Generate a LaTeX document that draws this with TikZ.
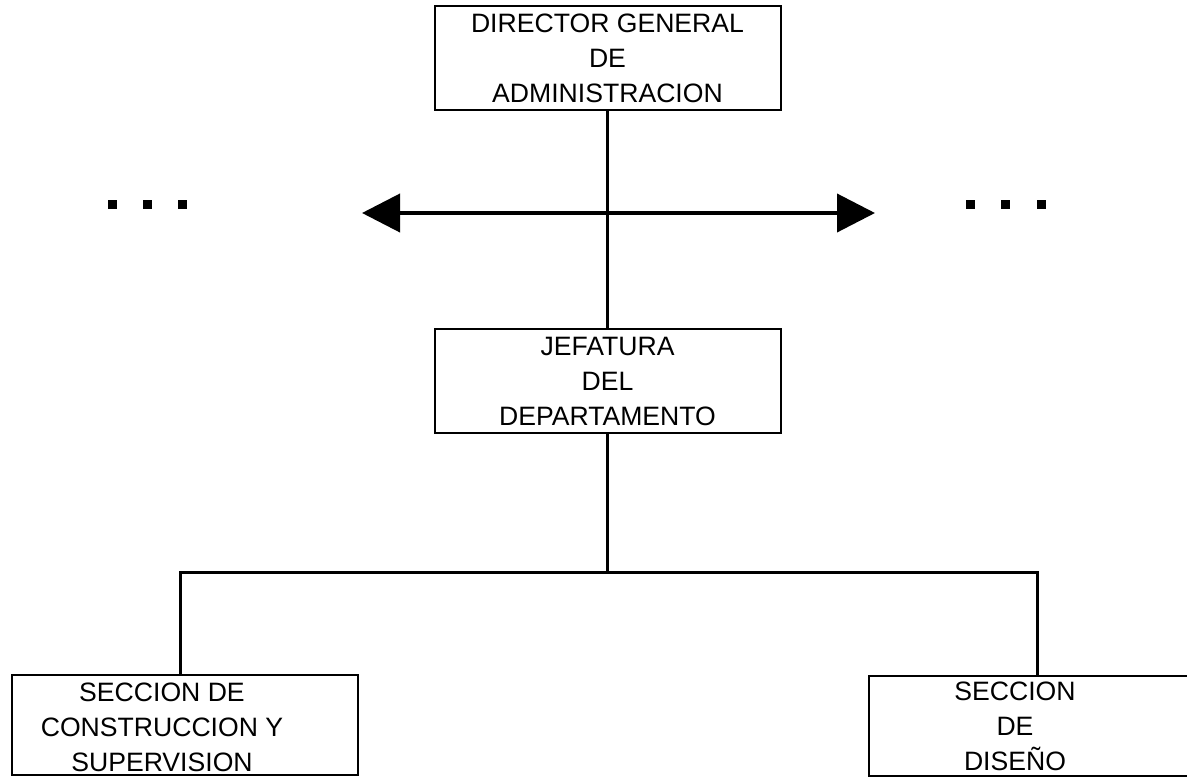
\documentclass[tikz,border=0pt]{standalone}
\usepackage{fontspec}
\setmainfont{Liberation Sans}
\usetikzlibrary{arrows.meta,positioning}
\tikzset{
  box/.style={draw,line width=1pt,inner sep=0pt,minimum width=173pt,minimum height=52pt},
  boxtext/.style={align=center,inner sep=0pt,font=\fontsize{13.3}{17.5}\selectfont},
  conn/.style={line width=1.5pt},
  wide/.style={line width=2pt,{Triangle[length=19pt,width=19pt]}-{Triangle[length=19pt,width=19pt]}}
}

\begin{document}
\begin{tikzpicture}[x=0.5pt,y=-0.5pt]
  % --- Window ---
  \useasboundingbox (0,0) rectangle (1187,776);
  \clip (0,0) rectangle (1187,776);

  % --- Boxes ---
  \node[box,boxtext] (dir) at (607.5,58) {DIRECTOR GENERAL\\DE\\ADMINISTRACION};
  \node[box,boxtext] (jef) at (607.5,381) {JEFATURA\\DEL\\DEPARTAMENTO};
  \node[box,minimum height=50pt] (secA) at (185,725) {};
  \node[box,minimum height=50pt] (secB) at (1042,725.5) {};
  \node[boxtext] (secAtxt) at (162,727) {SECCION DE\\CONSTRUCCION Y\\SUPERVISION};
  \node[boxtext] (secBtxt) at (1015,726) {SECCION\\DE\\DISEÑO};

  % --- Wide arrow ---
  \coordinate (wl) at (362,213);
  \coordinate (wr) at (875,213);
  \draw[wide] (wl) -- (wr);

  % --- Connectors ---
  \coordinate (bus) at (jef |- 0,572);
  \draw[conn] (dir) -- (jef);
  \draw[conn] (jef) -- (bus);
  \draw[conn] ([xshift=-2.5pt]secA.north) |- (bus) -| ([xshift=-2.5pt]secB.north);

  % --- Dots ---
  \foreach \x in {112,147,182,970,1005,1041}
    \fill (\x-4.5,199.5) rectangle (\x+4.5,208.5);
\end{tikzpicture}
\end{document}
